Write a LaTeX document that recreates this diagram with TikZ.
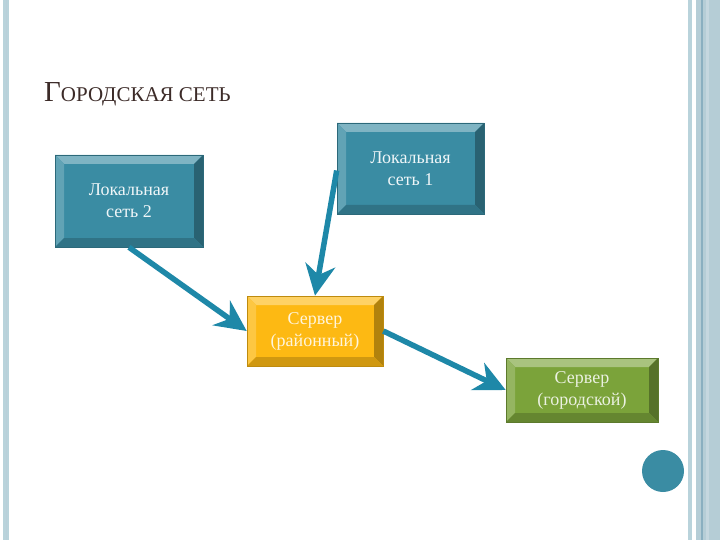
\documentclass[tikz,border=0pt]{standalone}
\usepackage{fontspec}
\setmainfont{Liberation Serif}
\usetikzlibrary{arrows.meta,positioning,calc}
\definecolor{netTeal}{HTML}{3A8CA3}
\definecolor{srvOrange}{HTML}{FDB913}
\definecolor{srvGreen}{HTML}{7BA33A}
\definecolor{linkBlue}{HTML}{1E88A8}
\definecolor{titleBrown}{HTML}{3C2B28}
\definecolor{stripLight}{HTML}{B9D3DB}
\definecolor{stripBand}{HTML}{B5CDD6}
\definecolor{stripDark}{HTML}{8AAFC0}

\begin{document}
\begin{tikzpicture}[
    x=1pt, y=-1pt,
    link/.style={line width=5.5pt, linkBlue, -{Stealth[length=31pt,width=30pt,inset=10pt]}},
    bevel/.style={fill=#1, draw=#1!75!black, line width=0.6pt,
                  align=center, inner sep=0pt,
                  font=\fontsize{18}{22}\selectfont,
                  path picture={
                    \coordinate (nw) at (path picture bounding box.north west);
                    \coordinate (ne) at (path picture bounding box.north east);
                    \coordinate (sw) at (path picture bounding box.south west);
                    \coordinate (se) at (path picture bounding box.south east);
                    % facets of the bevel
                    \fill[#1!65!white] (nw) -- (ne) -- ([xshift=-9pt,yshift=-9pt]ne) -- ([xshift=9pt,yshift=-9pt]nw) -- cycle;
                    \fill[#1!80!white] (nw) -- ([xshift=9pt,yshift=-9pt]nw) -- ([xshift=9pt,yshift=9pt]sw) -- (sw) -- cycle;
                    \fill[#1!70!black] (ne) -- ([xshift=-9pt,yshift=-9pt]ne) -- ([xshift=-9pt,yshift=9pt]se) -- (se) -- cycle;
                    \fill[#1!82!black] (sw) -- ([xshift=9pt,yshift=9pt]sw) -- ([xshift=-9pt,yshift=9pt]se) -- (se) -- cycle;
                  }},
    lan/.style={bevel=netTeal, text=white!92!netTeal},
    srv/.style={bevel=#1, text=white!85!#1},
]
\useasboundingbox (0,0) rectangle (720,540);

%-----------------------------------------------------------------------
% slide borders
\fill[stripLight] (3,0) rectangle (9,540);
\fill[stripDark!60] (5.5,0) rectangle (6.5,540);
\fill[stripLight] (688,0) rectangle (691.5,540);
\fill[stripBand] (696,0) rectangle (720,540);
\fill[stripDark] (700.5,0) rectangle (703,540);
\fill[stripDark!50] (706,0) rectangle (708.5,540);

% title
\node[anchor=base west, inner sep=0pt, text=titleBrown] (title) at (44,102)
  {{\fontsize{29}{29}\selectfont Г}{\fontsize{21}{21}\selectfont ОРОДСКАЯ СЕТЬ}};

%-----------------------------------------------------------------------
% networks and servers
\node[lan, minimum width=148pt, minimum height=92pt] (ls2) at (129,201) {Локальная\\сеть 2};
\node[lan, minimum width=147pt, minimum height=91pt] (ls1) at (410.5,168.5) {Локальная\\сеть 1};
\node[srv=srvOrange, minimum width=136pt, minimum height=70pt] (srvR) at (315,331) {Сервер\\(районный)};
\node[srv=srvGreen, minimum width=152pt, minimum height=64pt] (srvG) at (582,390) {Сервер\\(городской)};

% links
\draw[link] (ls2.south) -- (srvR.west);
\draw[link] ([yshift=-2pt]ls1.west) -- (srvR.north);
\draw[link] (srvR.east) -- (srvG.west);

% page dot
\fill[netTeal] (663,471) circle (21pt);

\end{tikzpicture}
\end{document}
